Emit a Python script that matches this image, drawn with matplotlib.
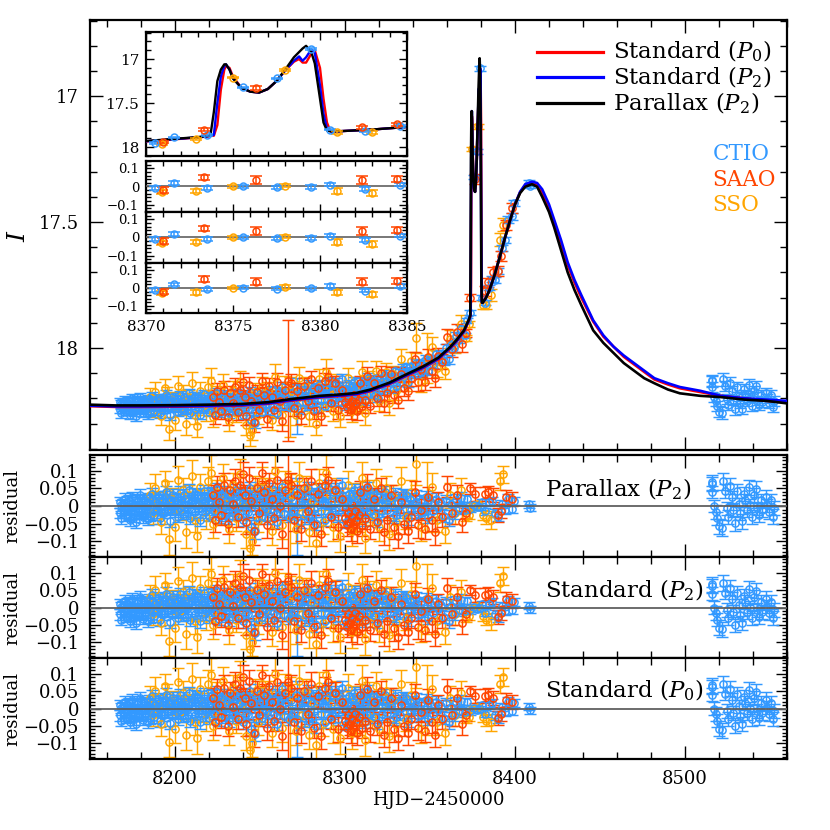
import matplotlib
matplotlib.use("Agg")
import matplotlib.pyplot as plt
from matplotlib.ticker import MultipleLocator, FuncFormatter

# ---------------- data ----------------
ctio_t = [8167.6, 8167.9, 8168.5, 8169.2, 8169.8, 8170.6, 8171.3, 8172.0, 8172.7, 8173.4,
          8174.1, 8174.8, 8175.6, 8176.3, 8177.1, 8177.9, 8178.6, 8179.4, 8180.2, 8181.0,
          8181.8, 8182.6, 8183.4, 8184.2, 8185.0, 8185.8,
          8186.7, 8187.5, 8188.3, 8189.2, 8190.1, 8191.0, 8191.9, 8192.8, 8193.7, 8194.6,
          8195.5, 8196.4, 8197.3, 8198.2, 8199.1, 8200.0, 8201.0, 8202.0, 8203.0, 8204.0,
          8205.0, 8206.0, 8207.0, 8208.0, 8209.0, 8210.0, 8211.0, 8212.0, 8213.0, 8214.0,
          8215.0, 8216.0, 8217.0, 8218.0, 8219.0, 8220.0, 8221.0, 8222.0, 8223.0, 8224.0,
          8225.0, 8226.0, 8227.0, 8228.0, 8229.0, 8230.0,
          8231, 8232, 8233, 8234, 8235, 8236, 8237, 8238, 8239, 8240,
          8241, 8242, 8243, 8244, 8245, 8246, 8247, 8248, 8249, 8250,
          8251, 8252, 8253, 8254, 8255, 8256, 8257, 8258, 8259, 8260,
          8261, 8262, 8263, 8264, 8265,
          8267.0, 8268.5, 8270.0, 8271.0, 8272.0, 8273.0, 8274.0, 8275.0, 8276.0, 8277.0,
          8278.0, 8279.0, 8280.0, 8281.0, 8282.0, 8283.0, 8284.0, 8285.0, 8286.0, 8287.0,
          8288.0, 8289.0, 8290.0, 8291.0, 8292.0, 8293.0, 8294.0, 8295.0, 8296.0, 8297.0,
          8298.0, 8299.0,
          8300.5, 8301.5, 8302.5, 8303.5, 8304.5, 8305.5, 8306.5, 8307.5, 8308.5, 8309.5,
          8310.5, 8311.5, 8312.5, 8313.5, 8314.5, 8315.5, 8316.5, 8317.5, 8318.5, 8319.5,
          8320.5, 8322.0, 8323.5, 8325.0, 8326.5, 8328.0, 8329.5, 8331.0, 8332.5, 8334.0,
          8335.5, 8337.0, 8338.5, 8340.0, 8341.5, 8343.0, 8344.5,
          8346.0, 8347.5, 8349.0, 8350.5, 8352.0, 8353.5, 8355.0, 8356.5, 8358.0, 8359.5,
          8361.0, 8362.5, 8364.0, 8365.5, 8367.0, 8368.5, 8370.5, 8371.6, 8373.5, 8375.6,
          8377.5, 8379.5, 8380.6, 8382.6, 8384.6, 8386.5, 8388.0, 8390.0, 8392.5, 8394.0,
          8396.0, 8398.0, 8399.5, 8408.0, 8409.0,
          8515.7, 8515.8, 8516.0, 8517.0, 8518.0, 8519.0, 8520.0, 8521.5, 8522.5, 8523.5,
          8524.5, 8525.5, 8526.5, 8527.5, 8528.5, 8529.5, 8530.5, 8531.5, 8532.5, 8533.5,
          8534.5, 8535.5, 8536.5, 8537.5, 8538.5, 8539.5, 8540.5, 8541.5, 8542.5, 8543.5,
          8544.5, 8545.5, 8547.5, 8548.5, 8549.5, 8550.5, 8551.5, 8552.5,
          8168.2, 8170.0, 8171.7, 8173.0, 8174.5, 8176.0, 8177.5, 8179.0, 8180.6, 8182.2,
          8183.8, 8185.4, 8187.1, 8188.8, 8190.5, 8192.3, 8194.1, 8195.9, 8197.7, 8199.5,
          8201.5, 8203.5, 8205.5, 8207.5, 8209.5, 8211.5, 8213.5, 8215.5, 8217.5, 8219.5,
          8221.5, 8223.5, 8225.5, 8227.5, 8229.5, 8231.5, 8233.5, 8235.5, 8237.5, 8239.5,
          8241.5, 8243.5, 8245.5, 8247.5, 8249.5, 8251.5, 8253.5, 8255.5, 8257.5, 8259.5,
          8261.5, 8263.5, 8269.0, 8276.5, 8280.5, 8284.5, 8288.5, 8292.5, 8296.5, 8299.5,
          8301.0, 8303.0, 8305.0, 8307.0, 8309.0, 8311.0, 8313.0, 8315.0, 8317.0, 8319.0,
          8321.5, 8324.0, 8327.0, 8330.0, 8333.0, 8336.0, 8339.0, 8342.0, 8345.0, 8348.0]
ctio_mag = [18.245, 18.215, 18.260, 18.220, 18.237, 18.205, 18.253, 18.230, 18.210, 18.265,
            18.235, 18.200, 18.247, 18.225, 18.270, 18.213, 18.243, 18.195, 18.233, 18.257,
            18.207, 18.240, 18.220, 18.263, 18.203, 18.227,
            18.190, 18.250, 18.215, 18.235, 18.197, 18.260, 18.221, 18.207, 18.245, 18.185,
            18.233, 18.210, 18.267, 18.219, 18.195, 18.240, 18.213, 18.255, 18.187, 18.225,
            18.247, 18.205, 18.230, 18.180, 18.260, 18.215, 18.200, 18.243, 18.193, 18.223,
            18.265, 18.210, 18.183, 18.235, 18.203, 18.253, 18.190, 18.220, 18.240, 18.177,
            18.213, 18.257, 18.197, 18.227, 18.185, 18.245,
            18.207, 18.260, 18.195, 18.220, 18.237, 18.180, 18.250, 18.210, 18.187, 18.265,
            18.217, 18.200, 18.243, 18.175, 18.285, 18.215, 18.297, 18.195, 18.233, 18.183,
            18.253, 18.205, 18.225, 18.185, 18.250, 18.203, 18.167, 18.230, 18.190, 18.258,
            18.173, 18.205, 18.155, 18.230, 18.192,
            18.234, 18.178, 18.212, 18.160, 18.230, 18.190, 18.244, 18.168, 18.192, 18.216,
            18.145, 18.229, 18.178, 18.157, 18.200, 18.241, 18.168, 18.145, 18.205, 18.182,
            18.230, 18.162, 18.135, 18.214, 18.176, 18.148, 18.197, 18.139, 18.216, 18.166,
            18.125, 18.190,
            18.228, 18.167, 18.146, 18.200, 18.175, 18.135, 18.210, 18.160, 18.186, 18.138,
            18.174, 18.210, 18.145, 18.118, 18.181, 18.154, 18.130, 18.185, 18.140, 18.198,
            18.126, 18.145, 18.106, 18.154, 18.116, 18.162, 18.092, 18.114, 18.135, 18.082,
            18.095, 18.137, 18.077, 18.090, 18.060, 18.105, 18.063,
            18.083, 18.043, 18.092, 18.046, 18.065, 18.024, 18.043, 18.024, 18.052, 18.000,
            18.045, 17.988, 18.000, 17.952, 17.966, 17.925, 17.950, 17.890, 17.860, 17.320,
            17.220, 16.890, 17.800, 17.820, 17.760, 17.725, 17.730, 17.695, 17.605, 17.570,
            17.490, 17.478, 17.425, 17.345, 17.355,
            18.133, 18.155, 18.128, 18.195, 18.212, 18.230, 18.253, 18.258, 18.125, 18.152,
            18.202, 18.225, 18.138, 18.170, 18.207, 18.244, 18.154, 18.191, 18.218, 18.241,
            18.164, 18.184, 18.212, 18.147, 18.198, 18.230, 18.170, 18.152, 18.209, 18.228,
            18.187, 18.215, 18.178, 18.201, 18.220, 18.187, 18.235, 18.212,
            18.223, 18.243, 18.213, 18.250, 18.217, 18.255, 18.205, 18.237, 18.210, 18.247,
            18.215, 18.253, 18.205, 18.230, 18.210, 18.245, 18.200, 18.235, 18.207, 18.225,
            18.203, 18.237, 18.195, 18.245, 18.210, 18.190, 18.233, 18.200, 18.243, 18.215,
            18.185, 18.240, 18.205, 18.195, 18.250, 18.197, 18.215, 18.245, 18.193, 18.220,
            18.240, 18.195, 18.205, 18.255, 18.210, 18.187, 18.235, 18.190, 18.205, 18.233,
            18.189, 18.177, 18.220, 18.175, 18.218, 18.160, 18.179, 18.203, 18.151, 18.169,
            18.172, 18.205, 18.150, 18.190, 18.155, 18.132, 18.188, 18.137, 18.155, 18.121,
            18.167, 18.120, 18.125, 18.150, 18.098, 18.075, 18.100, 18.073, 18.096, 18.057]
ctio_res = [-0.020, 0.010, -0.035, 0.005, -0.012, 0.020, -0.028, -0.005, 0.015, -0.040,
            -0.010, 0.025, -0.022, 0.000, -0.045, 0.012, -0.018, 0.030, -0.008, -0.032,
            0.018, -0.015, 0.005, -0.038, 0.022, -0.002,
            0.035, -0.025, 0.010, -0.010, 0.028, -0.035, 0.004, 0.018, -0.020, 0.040,
            -0.008, 0.015, -0.042, 0.006, 0.030, -0.015, 0.012, -0.030, 0.038, 0.000,
            -0.022, 0.020, -0.005, 0.045, -0.035, 0.010, 0.025, -0.018, 0.032, 0.002,
            -0.040, 0.015, 0.042, -0.010, 0.022, -0.028, 0.035, 0.005, -0.015, 0.048,
            0.012, -0.032, 0.028, -0.002, 0.040, -0.020,
            0.018, -0.035, 0.030, 0.005, -0.012, 0.045, -0.025, 0.015, 0.038, -0.040,
            0.008, 0.025, -0.018, 0.050, -0.060, 0.010, -0.072, 0.030, -0.008, 0.042,
            -0.028, 0.020, 0.000, 0.035, -0.035, 0.012, 0.048, -0.015, 0.025, -0.045,
            0.038, 0.005, 0.055, -0.022, 0.015,
            -0.030, 0.025, -0.010, 0.040, -0.030, 0.010, -0.045, 0.030, 0.005, -0.020,
            0.050, -0.035, 0.015, 0.035, -0.008, -0.050, 0.022, 0.045, -0.015, 0.008,
            -0.040, 0.028, 0.055, -0.025, 0.012, 0.040, -0.010, 0.048, -0.030, 0.020,
            0.060, -0.005,
            -0.045, 0.015, 0.035, -0.020, 0.005, 0.045, -0.030, 0.020, -0.008, 0.038,
            0.000, -0.038, 0.025, 0.050, -0.015, 0.010, 0.032, -0.025, 0.018, -0.042,
            0.028, 0.005, 0.040, -0.012, 0.022, -0.030, 0.035, 0.008, -0.018, 0.030,
            0.012, -0.035, 0.020, 0.002, 0.028, -0.022, 0.015,
            -0.010, 0.025, -0.030, 0.010, -0.015, 0.020, -0.005, 0.008, -0.028, 0.015,
            -0.040, 0.005, -0.020, 0.018, -0.008, 0.022, -0.010, 0.020, -0.008, 0.002,
            -0.004, -0.002, 0.010, -0.015, 0.010, 0.015, -0.020, -0.030, 0.005, -0.010,
            0.020, -0.008, 0.015, 0.005, -0.005,
            0.062, 0.040, 0.067, 0.000, -0.017, -0.035, -0.058, -0.063, 0.070, 0.043,
            -0.007, -0.030, 0.057, 0.025, -0.012, -0.049, 0.043, 0.006, -0.021, -0.044,
            0.034, 0.016, -0.012, 0.053, 0.002, -0.030, 0.030, 0.048, -0.007, -0.026,
            0.016, -0.012, 0.025, 0.002, -0.017, 0.016, -0.030, -0.007,
            0.002, -0.018, 0.012, -0.025, 0.008, -0.030, 0.020, -0.012, 0.015, -0.022,
            0.010, -0.028, 0.020, -0.005, 0.015, -0.020, 0.025, -0.010, 0.018, 0.000,
            0.022, -0.012, 0.030, -0.020, 0.015, 0.035, -0.008, 0.025, -0.018, 0.010,
            0.040, -0.015, 0.020, 0.030, -0.025, 0.028, 0.010, -0.020, 0.032, 0.005,
            -0.015, 0.030, 0.020, -0.030, 0.015, 0.038, -0.010, 0.025, 0.008, -0.022,
            0.020, 0.030, -0.018, 0.022, -0.025, 0.030, 0.010, -0.015, 0.035, 0.015,
            0.010, -0.025, 0.030, -0.012, 0.022, 0.040, -0.020, 0.028, 0.005, 0.035,
            -0.015, 0.025, 0.010, -0.025, 0.018, 0.030, -0.010, 0.012, -0.020, 0.008]
ctio_err = [0.015, 0.015, 0.016, 0.014, 0.015, 0.016, 0.015, 0.014, 0.015, 0.017,
            0.015, 0.016, 0.015, 0.014, 0.018, 0.015, 0.016, 0.017, 0.015, 0.016,
            0.015, 0.015, 0.014, 0.017, 0.016, 0.015,
            0.017, 0.016, 0.015, 0.015, 0.016, 0.017, 0.015, 0.016, 0.015, 0.018,
            0.015, 0.016, 0.018, 0.015, 0.017, 0.015, 0.015, 0.016, 0.018, 0.015,
            0.016, 0.016, 0.015, 0.018, 0.017, 0.015, 0.016, 0.016, 0.017, 0.015,
            0.018, 0.015, 0.018, 0.015, 0.016, 0.016, 0.017, 0.015, 0.016, 0.018,
            0.015, 0.017, 0.016, 0.015, 0.017, 0.016,
            0.016, 0.017, 0.016, 0.015, 0.016, 0.018, 0.016, 0.015, 0.017, 0.018,
            0.015, 0.016, 0.016, 0.019, 0.020, 0.015, 0.022, 0.016, 0.015, 0.018,
            0.016, 0.016, 0.015, 0.017, 0.017, 0.015, 0.018, 0.016, 0.016, 0.018,
            0.017, 0.015, 0.019, 0.016, 0.016,
            0.016, 0.016, 0.015, 0.017, 0.110, 0.015, 0.018, 0.016, 0.015, 0.016,
            0.018, 0.017, 0.015, 0.017, 0.015, 0.019, 0.016, 0.018, 0.016, 0.015,
            0.017, 0.016, 0.019, 0.016, 0.015, 0.017, 0.015, 0.018, 0.016, 0.016,
            0.020, 0.015,
            0.018, 0.016, 0.017, 0.016, 0.015, 0.018, 0.017, 0.016, 0.015, 0.017,
            0.015, 0.018, 0.016, 0.018, 0.016, 0.015, 0.017, 0.016, 0.016, 0.018,
            0.016, 0.015, 0.017, 0.016, 0.016, 0.017, 0.017, 0.015, 0.016, 0.017,
            0.016, 0.018, 0.016, 0.015, 0.017, 0.016, 0.016,
            0.016, 0.017, 0.017, 0.016, 0.016, 0.016, 0.015, 0.016, 0.017, 0.016,
            0.018, 0.016, 0.017, 0.016, 0.016, 0.017, 0.010, 0.010, 0.010, 0.008,
            0.008, 0.010, 0.010, 0.010, 0.010, 0.012, 0.012, 0.013, 0.012, 0.012,
            0.013, 0.012, 0.012, 0.010, 0.010,
            0.020, 0.018, 0.022, 0.018, 0.020, 0.019, 0.021, 0.022, 0.024, 0.020,
            0.019, 0.020, 0.022, 0.019, 0.020, 0.021, 0.020, 0.018, 0.019, 0.021,
            0.020, 0.019, 0.020, 0.022, 0.018, 0.020, 0.021, 0.022, 0.019, 0.020,
            0.019, 0.020, 0.021, 0.019, 0.020, 0.019, 0.021, 0.020,
            0.015, 0.017, 0.016, 0.015, 0.017, 0.016, 0.015, 0.017, 0.016, 0.015,
            0.017, 0.016, 0.015, 0.017, 0.016, 0.015, 0.017, 0.016, 0.015, 0.017,
            0.016, 0.015, 0.017, 0.016, 0.015, 0.017, 0.016, 0.015, 0.017, 0.016,
            0.015, 0.017, 0.016, 0.015, 0.017, 0.016, 0.015, 0.017, 0.016, 0.015,
            0.017, 0.016, 0.015, 0.017, 0.016, 0.015, 0.017, 0.016, 0.015, 0.017,
            0.016, 0.015, 0.017, 0.016, 0.015, 0.017, 0.016, 0.015, 0.017, 0.016,
            0.016, 0.017, 0.015, 0.016, 0.017, 0.016, 0.015, 0.017, 0.016, 0.015,
            0.017, 0.016, 0.015, 0.017, 0.016, 0.015, 0.017, 0.016, 0.015, 0.017]

saao_t = [8222.5, 8223.5, 8224.5, 8226.0, 8227.0, 8229.0, 8231.0, 8232.5, 8234.0, 8235.5,
          8237.0, 8238.5, 8240.0, 8241.0, 8242.0, 8243.5, 8245.0, 8246.5, 8248.0, 8249.5,
          8251.0, 8252.5, 8254.0, 8255.5, 8257.0, 8258.5, 8260.0, 8261.5, 8263.0, 8264.5,
          8266.2, 8268.0, 8270.0, 8272.0, 8274.0, 8276.0, 8278.0, 8280.0, 8282.0, 8284.0,
          8286.0, 8288.0, 8290.0, 8292.0, 8294.0, 8296.0, 8298.0, 8300.0, 8301.0, 8302.0,
          8302.8, 8303.5, 8304.2, 8305.0, 8305.8, 8306.5, 8307.2, 8308.0, 8309.0, 8310.0,
          8311.5, 8313.0, 8315.0, 8317.0, 8319.0, 8321.0, 8323.0, 8325.0, 8327.0, 8329.0,
          8331.0, 8333.0, 8335.0, 8337.0, 8339.0, 8341.0, 8343.0, 8345.0, 8347.0, 8349.0,
          8351.0, 8353.0, 8355.0, 8357.0, 8360.0, 8363.0, 8366.0, 8369.0, 8371.0, 8373.35,
          8376.3, 8382.4, 8384.4, 8387.0, 8390.0, 8392.0, 8395.0, 8398.2]
saao_mag = [18.195, 18.265, 18.170, 18.215, 18.250, 18.165, 18.275, 18.180, 18.220, 18.155,
            18.255, 18.165, 18.135, 18.195, 18.270, 18.145, 18.210, 18.295, 18.175, 18.245,
            18.130, 18.185, 18.280, 18.150, 18.195, 18.245, 18.135, 18.210, 18.290, 18.165,
            18.130, 18.140, 18.240, 18.170, 18.265, 18.150, 18.210, 18.125, 18.250, 18.160,
            18.270, 18.130, 18.115, 18.220, 18.140, 18.245, 18.165, 18.215, 18.235, 18.200,
            18.225, 18.245, 18.210, 18.230, 18.195, 18.220, 18.250, 18.205, 18.140, 18.230,
            18.205, 18.110, 18.230, 18.140, 18.200, 18.100, 18.220, 18.180, 18.105, 18.185,
            18.205, 18.105, 18.160, 18.170, 18.120, 18.045, 18.135, 18.085, 18.135, 18.035,
            18.090, 18.120, 18.030, 18.055, 17.955, 18.005, 17.935, 17.985, 17.940, 17.800,
            17.330, 17.775, 17.740, 17.700, 17.695, 17.635, 17.510, 17.445]
saao_res = [0.030, -0.040, 0.055, 0.010, -0.025, 0.060, -0.050, 0.045, 0.005, 0.070,
            -0.030, 0.060, 0.090, 0.030, -0.045, 0.080, 0.015, -0.070, 0.050, -0.020,
            0.095, 0.040, -0.055, 0.065, 0.020, -0.035, 0.075, 0.000, -0.080, 0.045,
            0.075, 0.060, -0.040, 0.030, -0.065, 0.050, -0.015, 0.070, -0.055, 0.035,
            -0.080, 0.060, 0.075, -0.030, 0.045, -0.060, 0.020, -0.035, -0.055, -0.020,
            -0.045, -0.065, -0.030, -0.050, -0.015, -0.040, -0.070, -0.025, 0.040, -0.055,
            -0.035, 0.055, -0.065, 0.020, -0.045, 0.050, -0.075, -0.040, 0.030, -0.060,
            -0.085, 0.010, -0.050, -0.070, -0.030, 0.040, -0.055, -0.010, -0.065, 0.025,
            -0.040, -0.075, 0.010, -0.030, 0.055, -0.020, 0.030, -0.045, -0.020, 0.050,
            0.035, 0.035, 0.040, 0.030, -0.026, -0.015, 0.025, 0.020]
saao_err = [0.030, 0.035, 0.030, 0.025, 0.030, 0.035, 0.030, 0.030, 0.025, 0.035,
            0.030, 0.030, 0.035, 0.030, 0.035, 0.030, 0.025, 0.040, 0.030, 0.030,
            0.030, 0.030, 0.035, 0.030, 0.025, 0.030, 0.035, 0.030, 0.040, 0.030,
            0.240, 0.035, 0.030, 0.030, 0.035, 0.030, 0.030, 0.035, 0.030, 0.030,
            0.035, 0.030, 0.035, 0.030, 0.030, 0.035, 0.030, 0.025, 0.030, 0.025,
            0.030, 0.035, 0.025, 0.030, 0.025, 0.030, 0.035, 0.025, 0.030, 0.030,
            0.030, 0.035, 0.030, 0.030, 0.030, 0.030, 0.035, 0.030, 0.030, 0.035,
            0.035, 0.030, 0.030, 0.035, 0.030, 0.030, 0.035, 0.030, 0.030, 0.030,
            0.030, 0.035, 0.030, 0.030, 0.030, 0.030, 0.030, 0.030, 0.015, 0.015,
            0.020, 0.020, 0.018, 0.020, 0.020, 0.020, 0.020, 0.020]

sso_t = [8185.5, 8187.0, 8188.5, 8190.0, 8192.0, 8194.0, 8195.5, 8196.5, 8198.0, 8200.0,
         8201.5, 8203.0, 8205.0, 8206.5, 8208.0, 8210.0, 8211.5, 8213.0, 8214.5, 8216.0,
         8218.0, 8219.5, 8221.0, 8222.5, 8224.0, 8226.0, 8228.0, 8230.0, 8232.0, 8234.0,
         8236.0, 8238.0, 8240.0, 8242.0, 8244.0, 8245.5, 8247.0, 8249.0, 8251.0, 8253.0,
         8255.0, 8257.0, 8259.0, 8261.0, 8263.0, 8265.0, 8267.5, 8269.0, 8271.0, 8273.0,
         8275.0, 8277.0, 8279.0, 8281.0, 8283.0, 8285.0, 8287.0, 8289.0, 8291.0, 8293.0,
         8295.0, 8297.0, 8299.0, 8302.0, 8304.0, 8306.0, 8308.0, 8310.0, 8312.0, 8314.0,
         8316.0, 8318.0, 8320.0, 8322.0, 8324.0, 8326.0, 8328.0, 8330.0, 8333.0, 8336.0,
         8339.0, 8342.0, 8345.0, 8348.0, 8351.0, 8354.0, 8358.8, 8362.0, 8365.0, 8368.0,
         8370.9, 8372.9, 8375.0, 8378.0, 8381.0, 8383.0, 8386.0, 8391.2, 8393.0]
sso_mag = [18.195, 18.245, 18.175, 18.215, 18.270, 18.160, 18.185, 18.320, 18.205, 18.285,
           18.150, 18.235, 18.180, 18.300, 18.195, 18.140, 18.265, 18.310, 18.170, 18.210,
           18.255, 18.155, 18.130, 18.275, 18.185, 18.245, 18.145, 18.200, 18.290, 18.165,
           18.260, 18.135, 18.210, 18.305, 18.345, 18.325, 18.175, 18.265, 18.155, 18.235,
           18.170, 18.285, 18.115, 18.190, 18.265, 18.150, 18.235, 18.170, 18.265, 18.120,
           18.220, 18.150, 18.270, 18.180, 18.300, 18.125, 18.235, 18.095, 18.160, 18.250,
           18.140, 18.270, 18.165, 18.120, 18.250, 18.150, 18.220, 18.095, 18.260, 18.125,
           18.185, 18.090, 18.210, 18.140, 18.095, 18.220, 18.105, 18.170, 18.045, 18.135,
           18.050, 17.960, 18.135, 18.040, 17.995, 18.080, 18.090, 17.965, 17.990, 17.905,
           17.960, 17.905, 17.210, 17.120, 17.830, 17.830, 17.790, 17.570, 17.510]
sso_res = [0.030, -0.020, 0.050, 0.010, -0.045, 0.065, 0.040, -0.095, 0.020, -0.060,
           0.075, -0.010, 0.045, -0.075, 0.030, 0.085, -0.040, -0.085, 0.055, 0.015,
           -0.030, 0.070, 0.095, -0.050, 0.040, -0.020, 0.080, 0.025, -0.065, 0.060,
           -0.035, 0.090, 0.015, -0.080, -0.120, -0.100, 0.050, -0.040, 0.070, -0.010,
           0.045, -0.070, 0.100, 0.020, -0.055, 0.060, -0.030, 0.035, -0.065, 0.080,
           -0.020, 0.050, -0.075, 0.015, -0.105, 0.065, -0.045, 0.095, 0.030, -0.060,
           0.045, -0.085, 0.020, 0.060, -0.070, 0.030, -0.040, 0.080, -0.090, 0.040,
           -0.025, 0.065, -0.060, 0.010, 0.050, -0.080, 0.025, -0.045, 0.070, -0.030,
           0.040, 0.120, -0.060, 0.025, 0.055, -0.040, -0.070, 0.030, -0.020, 0.045,
           -0.030, -0.025, 0.000, 0.005, -0.025, -0.035, -0.040, 0.070, 0.090]
sso_err = [0.035, 0.030, 0.040, 0.030, 0.035, 0.035, 0.030, 0.045, 0.030, 0.040,
           0.040, 0.030, 0.035, 0.045, 0.030, 0.045, 0.035, 0.045, 0.035, 0.030,
           0.035, 0.040, 0.050, 0.040, 0.035, 0.030, 0.040, 0.030, 0.040, 0.035,
           0.035, 0.045, 0.030, 0.040, 0.045, 0.040, 0.035, 0.035, 0.040, 0.030,
           0.035, 0.040, 0.050, 0.030, 0.040, 0.040, 0.120, 0.035, 0.040, 0.045,
           0.030, 0.035, 0.040, 0.030, 0.045, 0.040, 0.035, 0.050, 0.035, 0.040,
           0.035, 0.045, 0.030, 0.040, 0.045, 0.035, 0.035, 0.045, 0.045, 0.035,
           0.030, 0.040, 0.040, 0.030, 0.035, 0.045, 0.035, 0.035, 0.040, 0.035,
           0.035, 0.060, 0.040, 0.100, 0.040, 0.035, 0.035, 0.035, 0.030, 0.035,
           0.012, 0.012, 0.008, 0.010, 0.015, 0.015, 0.025, 0.025, 0.025]

model_t = [8150, 8165, 8180, 8200, 8220, 8240, 8255, 8268, 8285, 8300,
           8307, 8315, 8326, 8335, 8346, 8355, 8362, 8366, 8370, 8371,
           8372, 8373, 8373.7, 8373.9, 8374.1, 8374.3, 8374.5, 8374.6, 8374.8, 8375.0,
           8375.5, 8376.0, 8376.5, 8377.0, 8377.5, 8378.0, 8378.5, 8378.8, 8379.0, 8379.2,
           8379.5, 8379.7, 8380.0, 8380.2, 8380.4, 8380.6, 8381, 8383, 8385, 8388,
           8391, 8394, 8397, 8400, 8403, 8406, 8410, 8413, 8416, 8420,
           8423, 8427, 8431, 8435, 8439, 8446, 8452, 8458, 8464, 8470,
           8476, 8482, 8490, 8497, 8509, 8521, 8535, 8548, 8560]
model_parallax_p2 = [18.225, 18.228, 18.228, 18.227, 18.225, 18.222, 18.215, 18.203, 18.190, 18.183,
                     18.178, 18.165, 18.138, 18.108, 18.073, 18.038, 17.995, 17.965, 17.930, 17.915,
                     17.900, 17.885, 17.870, 17.600, 17.250, 17.120, 17.060, 17.060, 17.120, 17.220,
                     17.330, 17.370, 17.380, 17.340, 17.250, 17.120, 16.980, 16.920, 16.880, 16.850,
                     16.920, 17.050, 17.450, 17.720, 17.810, 17.820, 17.820, 17.800, 17.770, 17.710,
                     17.640, 17.565, 17.495, 17.430, 17.385, 17.360, 17.350, 17.360, 17.400, 17.460,
                     17.520, 17.610, 17.700, 17.770, 17.830, 17.930, 17.980, 18.020, 18.060, 18.090,
                     18.120, 18.140, 18.165, 18.180, 18.190, 18.195, 18.205, 18.210, 18.220]
model_standard_p2 = [18.229, 18.232, 18.232, 18.231, 18.229, 18.226, 18.219, 18.207, 18.194, 18.187,
                     18.182, 18.169, 18.142, 18.112, 18.077, 18.042, 17.999, 17.969, 17.933, 17.918,
                     17.903, 17.888, 17.872, 17.860, 17.500, 17.200, 17.080, 17.060, 17.120, 17.220,
                     17.330, 17.370, 17.380, 17.340, 17.250, 17.130, 17.020, 16.970, 17.020, 16.980,
                     16.890, 16.930, 17.300, 17.620, 17.790, 17.820, 17.820, 17.800, 17.770, 17.710,
                     17.640, 17.565, 17.495, 17.430, 17.380, 17.350, 17.340, 17.345, 17.370, 17.430,
                     17.490, 17.570, 17.660, 17.730, 17.790, 17.890, 17.950, 17.995, 18.030, 18.060,
                     18.090, 18.120, 18.140, 18.155, 18.170, 18.190, 18.200, 18.205, 18.210]
model_standard_p0 = [18.231, 18.234, 18.234, 18.233, 18.231, 18.228, 18.221, 18.209, 18.196, 18.189,
                     18.184, 18.171, 18.144, 18.114, 18.079, 18.044, 18.001, 17.971, 17.935, 17.920,
                     17.905, 17.890, 17.874, 17.870, 17.750, 17.350, 17.120, 17.080, 17.100, 17.200,
                     17.330, 17.370, 17.380, 17.340, 17.250, 17.130, 17.030, 17.000, 17.040, 17.040,
                     16.940, 16.900, 17.100, 17.450, 17.720, 17.820, 17.820, 17.800, 17.770, 17.710,
                     17.640, 17.565, 17.495, 17.430, 17.382, 17.355, 17.345, 17.350, 17.380, 17.440,
                     17.500, 17.580, 17.670, 17.740, 17.800, 17.895, 17.955, 17.995, 18.035, 18.065,
                     18.095, 18.125, 18.145, 18.160, 18.175, 18.190, 18.200, 18.210, 18.215]

model_labels = [r'Standard $(P_0)$', r'Standard $(P_2)$', r'Parallax $(P_2)$']
panel_labels = [r'Parallax $(P_2)$', r'Standard $(P_2)$', r'Standard $(P_0)$']
site_names = ['CTIO', 'SAAO', 'SSO']

# ---------------- style ----------------
plt.rcParams['font.family'] = ['DejaVu Serif']
plt.rcParams['mathtext.fontset'] = 'dejavuserif'

C_CTIO = '#3399FF'
C_SAAO = '#FF4500'
C_SSO = '#FFA500'
site_colors = [C_CTIO, C_SAAO, C_SSO]
C_P0, C_P2, C_PAR = '#FF0000', '#0000FF', '#000000'

W = H = 830.0
fig = plt.figure(figsize=(8.3, 8.3), dpi=100)


def rect(l, t, r, b):
    return [l / W, 1 - b / H, (r - l) / W, (b - t) / H]


def fmt(v, pos):
    if abs(v) < 1e-9:
        return '0'
    return ('%g' % round(v, 4)).replace('-', '\u2212')


def style(a, xmaj, xmin, ymaj, ymin, lsize, majlen, minlen, ymajlen=None, yminlen=None, pad=7):
    a.xaxis.set_major_locator(MultipleLocator(xmaj))
    a.xaxis.set_minor_locator(MultipleLocator(xmin))
    a.yaxis.set_major_locator(MultipleLocator(ymaj))
    a.yaxis.set_minor_locator(MultipleLocator(ymin))
    a.yaxis.set_major_formatter(FuncFormatter(fmt))
    a.xaxis.set_major_formatter(FuncFormatter(fmt))
    a.tick_params(which='both', direction='in', top=True, right=True, width=1.0,
                  labelsize=lsize, pad=pad)
    a.tick_params(which='major', length=majlen)
    a.tick_params(which='minor', length=minlen)
    if ymajlen is not None:
        a.tick_params(axis='y', which='major', length=ymajlen)
        a.tick_params(axis='y', which='minor', length=yminlen)
    for s in a.spines.values():
        s.set_linewidth(1.6)


def draw_points(a, values, ms=5.2, cap=4.5, lw=1.05, z=2):
    # draw order: SSO, CTIO, SAAO
    for idx in (2, 0, 1):
        t, y, e = values[idx]
        c = site_colors[idx]
        a.errorbar(t, y, yerr=e, fmt='o', ms=ms, mfc='none', mec=c, mew=lw,
                   ecolor=c, elinewidth=lw, capsize=cap, capthick=lw, zorder=z)


mag_sets = [(ctio_t, ctio_mag, ctio_err), (saao_t, saao_mag, saao_err), (sso_t, sso_mag, sso_err)]
res_sets = [(ctio_t, ctio_res, ctio_err), (saao_t, saao_res, saao_err), (sso_t, sso_res, sso_err)]
models = [model_standard_p0, model_standard_p2, model_parallax_p2]
model_colors = [C_P0, C_P2, C_PAR]

# ---------------- main panel ----------------
ax = fig.add_axes(rect(90, 20, 787, 450))
ax.set_xlim(8150, 8560)
ax.set_ylim(18.405, 16.698)
style(ax, 100, 20, 0.5, 0.1, 13, 9.5, 5, pad=8)
ax.tick_params(labelbottom=False)
draw_points(ax, mag_sets, z=2)
for m, c in zip(models, model_colors):
    ax.plot(model_t, m, color=c, lw=1.9, zorder=4)

# legend (manual)
for i, (lab, c) in enumerate(zip(model_labels, model_colors)):
    yy = [0.926, 0.867, 0.807][i]
    ax.plot([0.641, 0.736], [yy, yy], transform=ax.transAxes, color=c, lw=2.3, zorder=6)
    ax.text(0.750, yy, lab, transform=ax.transAxes, fontsize=16.5, va='center', ha='left')
for i, (nm, c) in enumerate(zip(site_names, site_colors)):
    yy = [0.688, 0.628, 0.570][i]
    ax.text(0.893, yy, nm, transform=ax.transAxes, fontsize=15.5, color=c, va='center', ha='left')

# ---------------- residual panels ----------------
res_rects = [(455, 557), (557, 658), (658, 759)]
for k, (top, bot) in enumerate(res_rects):
    ra = fig.add_axes(rect(90, top, 787, bot))
    ra.set_xlim(8150, 8560)
    ra.set_ylim(-0.145, 0.145)
    style(ra, 100, 20, 0.05, 0.01, 13, 9.5, 5, ymajlen=8, yminlen=3.5, pad=8)
    if k < 2:
        ra.tick_params(labelbottom=False)
    draw_points(ra, res_sets, z=2)
    ra.axhline(0, color='#606060', lw=1.3, zorder=5)
    ra.text(0.653, [0.667, 0.673, 0.683][k], panel_labels[k], transform=ra.transAxes,
            fontsize=16.5, va='center', ha='left')
    fig.text(12 / W, 1 - (top + bot) / 2 / H, 'residual', rotation=90, fontsize=13,
             ha='center', va='center')

# ---------------- inset ----------------
ins = fig.add_axes(rect(146, 32, 407, 156), zorder=10)
ins.set_facecolor('white')
ins.set_xlim(8370, 8385)
ins.set_ylim(18.10, 16.693)
style(ins, 5, 1, 0.5, 0.1, 11, 6, 3.5, pad=5)
ins.tick_params(labelbottom=False)
for m, c in zip(models, model_colors):
    ins.plot(model_t, m, color=c, lw=1.7, zorder=3)
draw_points(ins, mag_sets, ms=5, cap=4, lw=1.1, z=4)

ins_rects = [(161, 212), (212, 263), (263, 313)]
for k, (top, bot) in enumerate(ins_rects):
    ia = fig.add_axes(rect(146, top, 407, bot), zorder=10)
    ia.set_facecolor('white')
    ia.set_xlim(8370, 8385)
    ia.set_ylim(-0.14, 0.14)
    style(ia, 5, 1, 0.1, 0.02, 9.5, 6, 3.5, pad=5)
    ia.tick_params(axis='x', labelsize=11)
    if k < 2:
        ia.tick_params(labelbottom=False)
    ia.axhline(0, color='#606060', lw=1.2, zorder=3)
    draw_points(ia, res_sets, ms=5, cap=4, lw=1.1, z=4)

# ---------------- outer labels ----------------
fig.text(19 / W, 1 - 237 / H, 'I', style='italic', rotation=90, fontsize=18,
         ha='center', va='center')
fig.text(438 / W, 1 - 800 / H, 'HJD\u22122450000', fontsize=13, ha='center', va='center')

fig.savefig('out.png', dpi=100)
